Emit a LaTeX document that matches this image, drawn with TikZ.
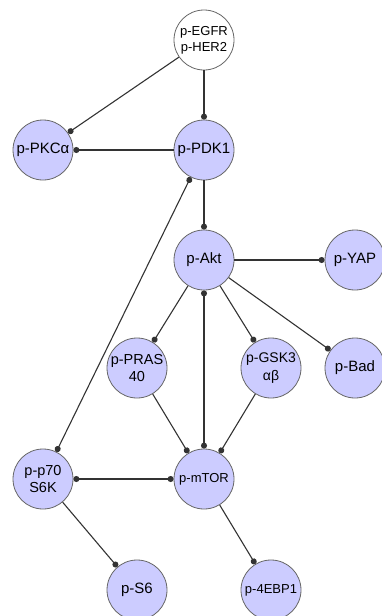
\documentclass[tikz,border=0pt]{standalone}
\usepackage{fontspec}
\setmainfont{Liberation Sans}
\usetikzlibrary{arrows.meta}
\definecolor{protfill}{RGB}{204,204,255}

\begin{document}
\begin{tikzpicture}
[
  x=1pt, y=-1pt,
  prot/.style={circle, draw=black!60, line width=0.8pt, fill=protfill, minimum size=60pt,
    inner sep=0pt, align=center, font=\fontsize{15}{17.5}\selectfont},
  recep/.style={prot, fill=white},
  smalltext/.style={font=\fontsize{13}{16}\selectfont},
  link/.style={draw=black!80, line width=1.1pt, -{Circle[length=6pt, width=6pt]}},
  bilink/.style={link, {Circle[length=6pt, width=6pt]}-{Circle[length=6pt, width=6pt]}}
]
  \useasboundingbox (0,0) rectangle (382,616);

  % receptor
  \node[recep, smalltext] (egfr) at (204,40) {p-EGFR\\p-HER2};

  % kinases
  \node[prot] (pkca) at (43,150)  {p-PKCα};
  \node[prot] (pdk)  at (204,150) {p-PDK1};
  \node[prot] (akt)  at (204,260) {p-Akt};
  \node[prot] (yap)  at (355,260) {p-YAP};
  \node[prot, font=\fontsize{14.5}{17.5}\selectfont] (pras) at (137,368) {p-PRAS\\40};
  \node[prot, font=\fontsize{14}{17.5}\selectfont] (gsk) at (271,368) {p-GSK3\\αβ};
  \node[prot] (bad)  at (355,368) {p-Bad};
  \node[prot, font=\fontsize{14.5}{17.5}\selectfont] (p70) at (43,479) {p-p70\\S6K};
  \node[prot, smalltext] (mtor) at (204,479) {p-mTOR};
  \node[prot] (s6)   at (137,590) {p-S6};
  \node[prot, smalltext] (ebp) at (271,590) {p-4EBP1};

  % connections
  \draw[link] (egfr) -- (pkca);
  \draw[link] (egfr) -- (pdk);
  \draw[link] (pdk) -- (pkca);
  \draw[link] (pdk) -- (akt);
  \draw[bilink] (p70) -- (pdk);
  \draw[link] (akt) -- (yap);
  \draw[link] (akt) -- (pras);
  \draw[link] (akt) -- (gsk);
  \draw[link] (akt) -- (bad);
  \draw[bilink] (mtor) -- (akt);
  \draw[link] (pras) -- (mtor);
  \draw[link] (gsk) -- (mtor);
  \draw[bilink] (mtor) -- (p70);
  \draw[link] (p70) -- (s6);
  \draw[link] (mtor) -- (ebp);
\end{tikzpicture}
\end{document}
